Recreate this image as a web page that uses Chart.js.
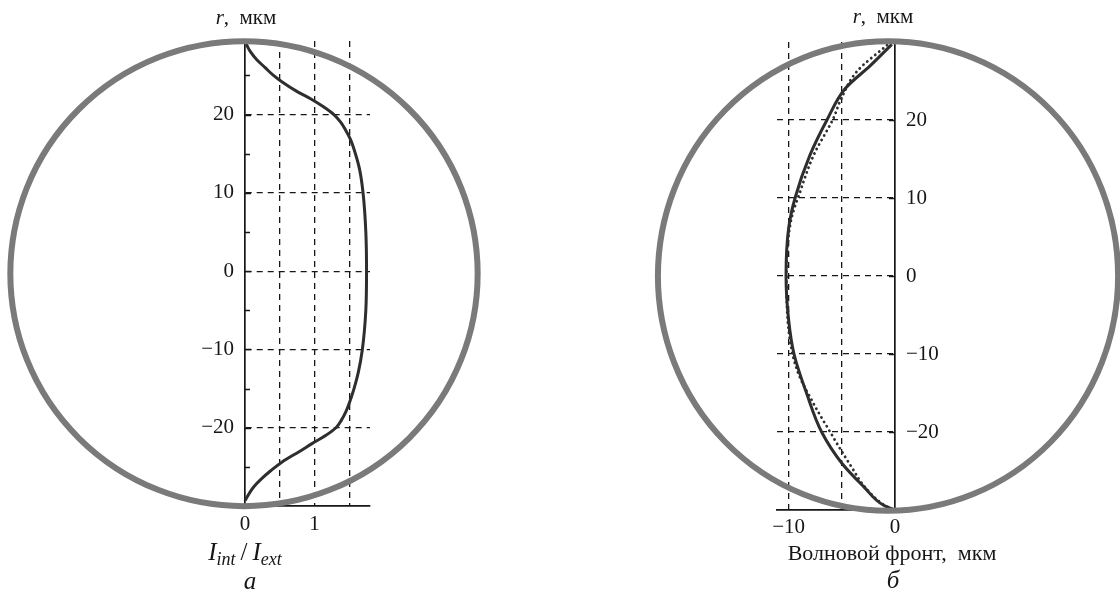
<!DOCTYPE html>
<html>
<head>
<meta charset="utf-8">
<script src="https://cdn.jsdelivr.net/npm/chart.js@4.4.0/dist/chart.umd.min.js"></script>
<style>
  body { margin: 0; background: #fff; width: 1120px; height: 592px; overflow: hidden; position: relative;
         font-family: "Liberation Serif", "DejaVu Serif", serif; color: #161616; }
  .panel { position: absolute; top: 0; width: 560px; height: 592px; }
  .lbl { position: absolute; transform: translate(-50%, -50%); white-space: nowrap; font-size: 21px; line-height: 1; }
  .big { font-size: 25px; }
  .big sub { font-size: 18px; vertical-align: -5px; }
</style>
</head>
<body>
<div class="panel" style="left:0"><canvas id="intensityChart" width="560" height="592"></canvas></div>
<div class="panel" style="left:560px"><canvas id="frontChart" width="560" height="592"></canvas></div>

<div class="lbl" style="left:246px;top:17px"><i>r</i>,&nbsp; мкм</div>
<div class="lbl big" style="left:245px;top:553px"><i>I<sub>int</sub></i>&thinsp;/&thinsp;<i>I<sub>ext</sub></i></div>
<div class="lbl big" style="left:250px;top:580px"><i>а</i></div>

<div class="lbl" style="left:883px;top:16px"><i>r</i>,&nbsp; мкм</div>
<div class="lbl" style="left:892px;top:553px;font-size:22px">Волновой фронт,&nbsp; мкм</div>
<div class="lbl big" style="left:893px;top:579px"><i>б</i></div>

<script>
// ---- panel a: intensity ratio across the fibre radius
const rIntensity = [29.4, 28.8, 28, 27, 26, 25, 24.2, 23, 22, 21, 20, 19, 18, 16.8, 15, 13, 10, 5, 0,
                    -5, -10, -13, -15, -16.9, -18, -19, -20, -21, -22, -23, -24.4, -25.5, -26.5, -27.5, -28.4, -29.3];
const intensity  = [0, 0.03, 0.08, 0.17, 0.29, 0.41, 0.53, 0.74, 0.95, 1.13, 1.28, 1.38, 1.45, 1.52, 1.59, 1.65, 1.7, 1.74, 1.75,
                    1.74, 1.69, 1.63, 1.57, 1.5, 1.45, 1.39, 1.31, 1.16, 0.97, 0.79, 0.53, 0.37, 0.24, 0.13, 0.06, 0];
const intensityTicks = [0, 0.5, 1, 1.5];
const intensityLabels = ['0', '', '1', ''];

// ---- panel б: wavefront, calculated (solid) and fitted (dotted)
const rFront   = [29.7, 27, 24, 20, 15.5, 10, 6.2, 0, -5.7, -10, -15.1, -20, -24, -27, -29.4, -29.9];
const front    = [-0.3, -2.3, -4.7, -6.4, -8.0, -9.4, -10.0, -10.25, -10.0, -9.5, -8.3, -6.9, -5.0, -2.95, -1.07, -0.2];
const rFit     = [29.6, 26.2, 22.6, 20.2, 15.5, 10.9, 7, 0, -7, -12.1, -16.4, -20, -21.5, -24.9, -26.6, -29.2, -29.9];
const frontFit = [-0.75, -3.6, -5.1, -5.8, -7.65, -8.9, -9.8, -10.2, -10.0, -9.2, -7.65, -6.1, -5.45, -3.9, -3.1, -1.2, -0.3];
const frontTicks = [-10, -5, 0];
const frontLabels = ['−10', '', '0'];

const radiusTicks = [-20, -10, 0, 10, 20];
const radiusMinor = [-25, -15, -5, 5, 15, 25];

const ink = '#161616';
const curveInk = '#2e2e2e';
const rimColor = '#7a7a7a';
const font = { family: '"Liberation Serif", "DejaVu Serif", serif', size: 21 };

const minus = v => String(v).replace('-', '−');
const pts = (xs, ys) => xs.map((x, i) => ({ x: x, y: ys[i] }));

// aperture rim + short inward ticks on the r axis
const rimPlugin = {
  id: 'rimPlugin',
  afterDatasetsDraw(chart) {
    const o = chart.options.plugins.rimPlugin;
    if (!o) return;
    const ctx = chart.ctx;
    const xs = chart.scales.x, ys = chart.scales.y;
    const x0 = xs.getPixelForValue(0), y0 = ys.getPixelForValue(0);

    ctx.save();
    ctx.strokeStyle = ink;
    ctx.lineWidth = 1.5;
    const dir = o.tickSide;
    const mark = (v, len) => {
      const y = Math.round(ys.getPixelForValue(v)) + 0.5;
      ctx.beginPath();
      ctx.moveTo(x0, y);
      ctx.lineTo(x0 + dir * len, y);
      ctx.stroke();
    };
    radiusTicks.forEach(v => mark(v, 6));
    if (o.minor) radiusMinor.forEach(v => mark(v, 5));

    const ry = Math.abs(ys.getPixelForValue(o.radius) - y0);
    ctx.strokeStyle = rimColor;
    ctx.lineWidth = 6;
    ctx.beginPath();
    ctx.ellipse(x0 + o.dx, y0 + o.dy, ry * o.squeeze, ry, 0, 0, Math.PI * 2);
    ctx.stroke();
    ctx.restore();
  }
};

function makeScales(cfg) {
  return {
    x: {
      type: 'linear', min: cfg.xMin, max: cfg.xMax,
      afterBuildTicks: s => { s.ticks = cfg.xTicks.map(v => ({ value: v })); },
      afterFit: s => { s.height = cfg.xHeight; },
      grid: {
        color: c => (c.tick && c.tick.value === cfg.xAxisAt) ? 'rgba(0,0,0,0)' : ink,
        lineWidth: 1.3, drawTicks: false
      },
      border: { color: ink, width: 1.7, dash: [6, 5] },
      ticks: {
        color: ink, font: font, padding: cfg.xPad, maxRotation: 0, autoSkip: false,
        callback: (v, i) => cfg.xLabels[i]
      }
    },
    y: {
      type: 'linear', min: cfg.yMin, max: cfg.yMax, position: cfg.yPos,
      afterBuildTicks: s => { s.ticks = radiusTicks.map(v => ({ value: v })); },
      afterFit: s => { s.width = cfg.yWidth; },
      grid: { color: ink, lineWidth: 1.3, drawTicks: false },
      border: { color: ink, width: 1.7, dash: [6, 5] },
      ticks: { color: ink, font: font, padding: 11, autoSkip: false, callback: v => minus(v) }
    }
  };
}

new Chart(document.getElementById('intensityChart'), {
  type: 'line',
  data: {
    datasets: [{
      data: pts(intensity, rIntensity),
      borderColor: curveInk, borderWidth: 3, cubicInterpolationMode: 'monotone',
      pointRadius: 0, fill: false, clip: false
    }]
  },
  options: {
    indexAxis: 'y',
    responsive: false, animation: false, parsing: false,
    layout: { padding: { left: 0, top: 41, right: 190, bottom: 0 } },
    plugins: {
      legend: { display: false }, tooltip: { enabled: false },
      rimPlugin: { radius: 29.7, dx: -1, dy: 2.5, squeeze: 1.005, tickSide: 1, minor: true }
    },
    scales: makeScales({
      xMin: 0, xMax: 1.8, xTicks: intensityTicks, xLabels: intensityLabels, xAxisAt: 0,
      xHeight: 86, xPad: 6,
      yMin: -30, yMax: 29.4, yPos: 'left', yWidth: 245
    })
  },
  plugins: [rimPlugin]
});

new Chart(document.getElementById('frontChart'), {
  type: 'line',
  data: {
    datasets: [{
      data: pts(front, rFront),
      borderColor: curveInk, borderWidth: 3, cubicInterpolationMode: 'monotone',
      pointRadius: 0, fill: false, clip: false
    }, {
      data: pts(frontFit, rFit),
      borderColor: curveInk, borderWidth: 2.8, borderDash: [0.1, 5], borderCapStyle: 'round',
      cubicInterpolationMode: 'monotone', pointRadius: 0, fill: false, clip: false
    }]
  },
  options: {
    indexAxis: 'y',
    responsive: false, animation: false, parsing: false,
    layout: { padding: { left: 217, top: 42, right: 0, bottom: 0 } },
    plugins: {
      legend: { display: false }, tooltip: { enabled: false },
      rimPlugin: { radius: 30.1, dx: -7, dy: 0, squeeze: 0.98, tickSide: -1, minor: false }
    },
    scales: makeScales({
      xMin: -11.1, xMax: 0, xTicks: frontTicks, xLabels: frontLabels, xAxisAt: 0,
      xHeight: 82, xPad: 5,
      yMin: -30, yMax: 30, yPos: 'right', yWidth: 225
    })
  },
  plugins: [rimPlugin]
});
</script>
</body>
</html>
